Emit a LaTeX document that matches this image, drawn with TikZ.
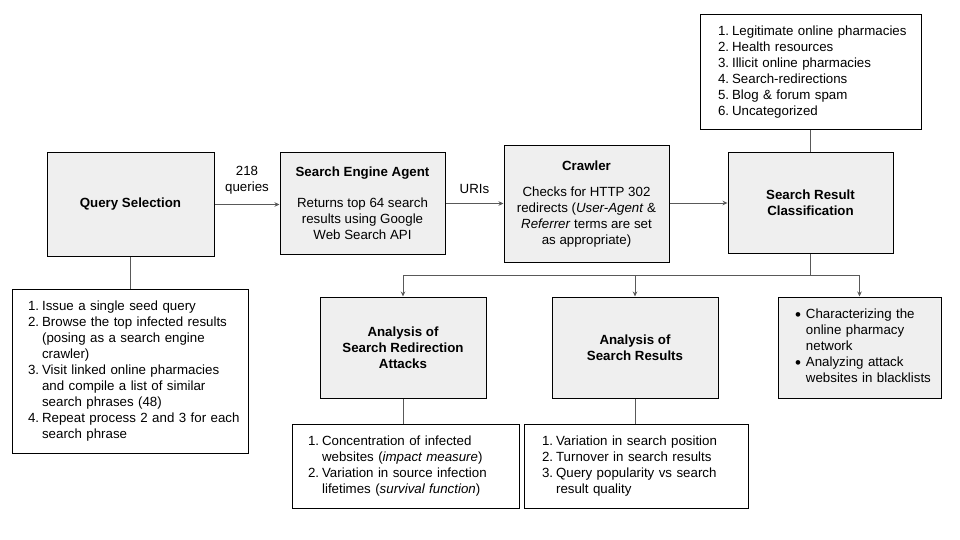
\documentclass[tikz,border=0pt]{standalone}
\usepackage{fontspec}
\setmainfont{Liberation Sans}
\usetikzlibrary{arrows.meta}
\definecolor{boxgray}{HTML}{EFEFEF}
\definecolor{linegray}{HTML}{595959}
\newcommand{\dotmark}{\raisebox{-1.6pt}{\fontsize{17}{16}\selectfont\textbullet}}
\begin{document}
\begin{tikzpicture}[
          x=1pt, y=-1pt,
          every node/.style={font=\fontsize{13.3}{16}\selectfont},
          stage/.style={rectangle, draw=black, line width=1pt, fill=boxgray, align=center, inner sep=2pt},
          listbox/.style={rectangle, draw=black, line width=1pt, fill=white, align=left, inner ysep=0pt},
          link/.style={draw=linegray, line width=0.9pt},
          tip/.style={-{Stealth[length=5pt, width=4.5pt]}}
        ]
        \useasboundingbox (0,0) rectangle (960,540);

        % top row
        \node[stage, minimum width=167, minimum height=103] (qsel) at (130.5,204.5) {\textbf{Query Selection}};
        \node[stage, minimum width=165, minimum height=101] (agent) at (362.5,203.5)
            {\textbf{Search Engine Agent}\\[15pt]Returns top 64 search\\results using Google\\Web Search API};
        \node[stage, minimum width=165, minimum height=116] (crawler) at (586.5,204)
            {\textbf{Crawler}\\[10pt]Checks for HTTP 302\\redirects (\textit{User-Agent} \&\\\textit{Referrer} terms are set\\as appropriate)};
        \node[stage, minimum width=165, minimum height=100] (classify) at (810.5,203)
            {\textbf{Search Result}\\\textbf{Classification}};

        \node[listbox, minimum height=115, inner xsep=18pt, text width=185pt] (classes) at (810.5,72.5)
            {\begin{tabular}{@{}l@{\hspace{3pt}}l@{}}
              1. & Legitimate online pharmacies\\
              2. & Health resources\\
              3. & Illicit online pharmacies\\
              4. & Search-redirections\\
              5. & Blog \& forum spam\\
              6. & Uncategorized
            \end{tabular}};

        \node[listbox, minimum height=164, inner xsep=16pt, text width=204pt] (steps) at (130,371)
            {\begin{tabular}{@{}l@{\hspace{3pt}}l@{}}
              1. & Issue a single seed query\\
              2. & Browse the top infected results\\
                 & (posing as a search engine\\
                 & crawler)\\
              3. & Visit linked online pharmacies\\
                 & and compile a list of similar\\
                 & search phrases (48)\\
              4. & Repeat process 2 and 3 for each\\
                 & search phrase
            \end{tabular}};

        % analysis row
        \node[stage, minimum width=166, minimum height=101] (redirect) at (403,347.5)
            {\textbf{Analysis of}\\\textbf{Search Redirection}\\\textbf{Attacks}};
        \node[stage, minimum width=166, minimum height=101] (results) at (635,347.5)
            {\textbf{Analysis of}\\\textbf{Search Results}};
        \node[stage, align=left, minimum width=163, minimum height=101, inner xsep=17pt, text width=129pt] (network) at (859.5,347.5)
            {\begin{tabular}{@{}l@{\hspace{5pt}}l@{}}
              \dotmark & Characterizing the\\
                       & online pharmacy\\
                       & network\\
              \dotmark & Analyzing attack\\
                       & websites in blacklists
            \end{tabular}};

        \node[listbox, minimum height=84, inner xsep=16pt, text width=195pt] (redirectlist) at (405.5,466)
            {\begin{tabular}{@{}l@{\hspace{3pt}}l@{}}
              1. & Concentration of infected\\
                 & websites (\textit{impact measure})\\
              2. & Variation in source infection\\
                 & lifetimes (\textit{survival function})
            \end{tabular}};
        \node[listbox, minimum height=84, inner xsep=18pt, text width=188pt] (resultlist) at (636,466)
            {\begin{tabular}{@{}l@{\hspace{3pt}}l@{}}
              1. & Variation in search position\\
              2. & Turnover in search results\\
              3. & Query popularity vs search\\
                 & result quality
            \end{tabular}};

        % connectors
        \draw[link, tip] (qsel.east) -- (qsel.east -| agent.west)
            node[midway, above, align=center, yshift=6pt] {218\\queries};
        \draw[link, tip] (agent.east) -- (agent.east -| crawler.west)
            node[midway, above, yshift=6pt] {URIs};
        \draw[link, tip] (crawler.east |- classify.west) -- (classify.west);
        \draw[link] (classify.north) -- (classes.south);
        \draw[link] (qsel.south) -- (qsel.south |- steps.north);

        \coordinate (fork) at (810.5,275);
        \draw[link] (classify.south) -- (fork);
        \draw[link, tip] (fork) -| (redirect.north);
        \draw[link, tip] (fork) -| (results.north);
        \draw[link, tip] (fork) -| (network.north);

        \draw[link] (redirect.south) -- (redirect.south |- redirectlist.north);
        \draw[link] (results.south) -- (results.south |- resultlist.north);

        \end{tikzpicture}
\end{document}
